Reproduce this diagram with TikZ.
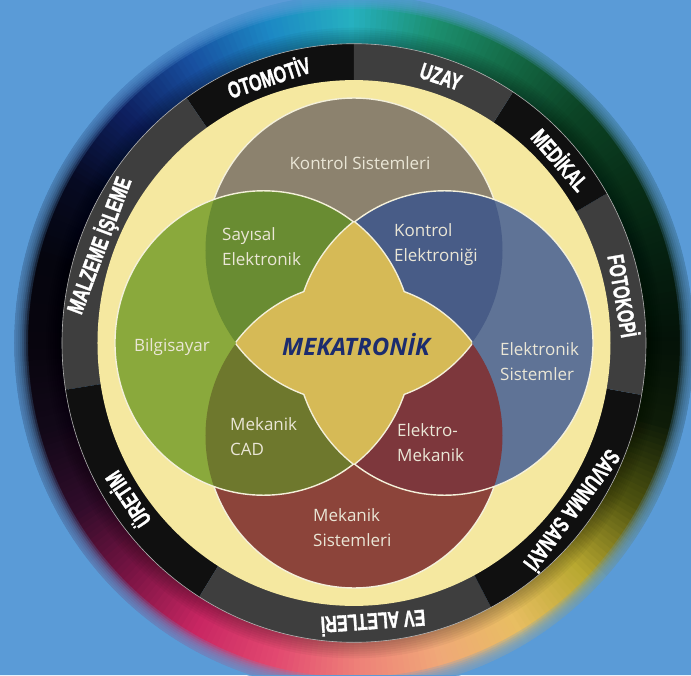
\documentclass[tikz,border=0pt]{standalone}
\usepackage{graphicx}
\usepackage{fontspec}
\newfontfamily\regionfont{Open Sans}
\newfontfamily\bandfont[FakeBold=1.6]{Liberation Sans}

% page and ring colours
\definecolor{bgblue}{HTML}{5A9BD7}
\definecolor{ringblack}{HTML}{101010}
\definecolor{ringgray}{HTML}{3E3E3E}
\definecolor{bandyellow}{HTML}{F5E8A0}
\definecolor{outline}{HTML}{F4F0DA}
% the four fields and their overlaps
\definecolor{tancol}{HTML}{8C826E}
\definecolor{redcol}{HTML}{8C443A}
\definecolor{greencol}{HTML}{8AA93C}
\definecolor{bluecol}{HTML}{5F7396}
\definecolor{greentan}{HTML}{698C32}
\definecolor{bluetan}{HTML}{485C87}
\definecolor{greenred}{HTML}{6E782D}
\definecolor{bluered}{HTML}{7D373C}
\definecolor{starcol}{HTML}{D6BA56}
\definecolor{navy}{HTML}{1C2C6E}
\definecolor{labeltext}{HTML}{EAE6D6}
% colour wheel around the ring, every 15 degrees
\definecolor{rb0}{HTML}{041208}
\definecolor{rb1}{HTML}{052010}
\definecolor{rb2}{HTML}{083018}
\definecolor{rb3}{HTML}{0C4426}
\definecolor{rb4}{HTML}{146A46}
\definecolor{rb5}{HTML}{1C9070}
\definecolor{rb6}{HTML}{26B0C0}
\definecolor{rb7}{HTML}{1C88C4}
\definecolor{rb8}{HTML}{1850A0}
\definecolor{rb9}{HTML}{0E2060}
\definecolor{rb10}{HTML}{060A22}
\definecolor{rb11}{HTML}{05050E}
\definecolor{rb12}{HTML}{08050E}
\definecolor{rb13}{HTML}{120818}
\definecolor{rb14}{HTML}{300C2A}
\definecolor{rb15}{HTML}{7A1444}
\definecolor{rb16}{HTML}{C82662}
\definecolor{rb17}{HTML}{E24870}
\definecolor{rb18}{HTML}{EE8078}
\definecolor{rb19}{HTML}{F0A878}
\definecolor{rb20}{HTML}{E8BE62}
\definecolor{rb21}{HTML}{B8A830}
\definecolor{rb22}{HTML}{505410}
\definecolor{rb23}{HTML}{0E1C08}

% condensed heavy caps for the application band
\newcommand{\bandtext}[1]{\scalebox{0.70}[1]{#1}}

\tikzset{
  bandlabel/.style={text=white, inner sep=0pt, text depth=0pt,
    font=\bandfont\bfseries\fontsize{23}{23}\selectfont},
  regiontext/.style={text=labeltext, inner sep=0pt, align=left, anchor=west,
    font=\regionfont\fontsize{17}{25}\selectfont},
  fieldline/.style={draw=outline, line width=1.4pt},
}

\begin{document}
\begin{tikzpicture}[x=1pt,y=1.025pt]
\def\R{148.5}
\useasboundingbox (-354pt,-332pt) rectangle (337pt,343pt);
\fill[bgblue] (-354pt,-332pt) rectangle (337pt,343pt);

% colour wheel ring
\foreach \i in {0,...,23}{
  \pgfmathtruncatemacro{\n}{mod(\i+1,24)}
  \foreach \j in {0,...,14}{
    \pgfmathtruncatemacro{\p}{round(\j*100/15)}
    \pgfmathsetmacro{\a}{15*\i+\j}
    \pgfmathsetmacro{\b}{\a+1.4}
    \fill[rb\n!\p!rb\i] (\a:290) arc[start angle=\a,end angle=\b,radius=290]
      -- (\b:340) arc[start angle=\b,end angle=\a,radius=340] -- cycle;
  }
}
% light shadow next to the dark band
\foreach \k in {1,...,8}{
  \pgfmathsetmacro{\rr}{290+2.2*\k}
  \fill[black,opacity=0.04,even odd rule] (0,0) circle[radius=\rr] circle[radius=290];
}
% soft outer edge
\foreach \k in {0,...,6}{
  \pgfmathsetmacro{\rr}{326+2*\k}
  \fill[bgblue,opacity=0.22,even odd rule] (0,0) circle[radius=341] circle[radius=\rr];
}
\fill[bgblue,even odd rule] (-354pt,-332pt) rectangle (337pt,343pt) (0,0) circle[radius=340];

% application band
\foreach \s/\e/\c in {90/125/ringblack, 125/189/ringgray, 189/238/ringblack,
    238/298/ringgray, 298/350/ringblack, 350/390/ringgray, 390/417/ringblack,
    417/450/ringgray}{
  \fill[\c] (\s:256) arc[start angle=\s,end angle=\e,radius=256]
    -- (\e:292) arc[start angle=\e,end angle=\s,radius=292] -- cycle;
}
\draw[gray!60,line width=0.6pt] (0,0) circle[radius=292];

% inner yellow disc
\fill[bandyellow] (0,0) circle[radius=256.5];

% field centres
\coordinate (cT) at (0,90.5);
\coordinate (cB) at (0,-90.5);
\coordinate (cL) at (-90.5,0);
\coordinate (cR) at (90.5,0);

% single fields
\fill[tancol] (cT) circle[radius=\R];
\fill[redcol] (cB) circle[radius=\R];
\draw[fieldline] (cT) circle[radius=\R];
\draw[fieldline] (cB) circle[radius=\R];
\fill[greencol] (cL) circle[radius=\R];
\fill[bluecol] (cR) circle[radius=\R];

% overlaps of two fields
\begin{scope}
  \clip (cT) circle[radius=\R];
  \fill[greentan] (cL) circle[radius=\R];
  \fill[bluetan] (cR) circle[radius=\R];
\end{scope}
\begin{scope}
  \clip (cB) circle[radius=\R];
  \fill[greenred] (cL) circle[radius=\R];
  \fill[bluered] (cR) circle[radius=\R];
\end{scope}
\draw[fieldline] (cL) circle[radius=\R];
\draw[fieldline] (cR) circle[radius=\R];

% central star: union of the two opposite lenses
\begin{scope}
  \clip (cT) circle[radius=\R];
  \draw[outline,line width=3pt] (cB) circle[radius=\R];
\end{scope}
\begin{scope}
  \clip (cB) circle[radius=\R];
  \draw[outline,line width=3pt] (cT) circle[radius=\R];
\end{scope}
\begin{scope}
  \clip (cL) circle[radius=\R];
  \draw[outline,line width=3pt] (cR) circle[radius=\R];
\end{scope}
\begin{scope}
  \clip (cR) circle[radius=\R];
  \draw[outline,line width=3pt] (cL) circle[radius=\R];
\end{scope}
\begin{scope}
  \clip (cT) circle[radius=\R];
  \fill[starcol] (cB) circle[radius=\R];
\end{scope}
\begin{scope}
  \clip (cL) circle[radius=\R];
  \fill[starcol] (cR) circle[radius=\R];
\end{scope}

% band labels
\node[bandlabel,rotate=18.2]   (oto)  at (108.2:274) {\bandtext{OTOMOTİV}};
\node[bandlabel,rotate=-18.5]  (uzay) at (71.5:274)  {\bandtext{UZAY}};
\node[bandlabel,rotate=-49.1]  (med)  at (40.9:274)  {\bandtext{MEDİKAL}};
\node[bandlabel,rotate=-80.3]  (foto) at (9.7:274)   {\bandtext{FOTOKOPİ}};
\node[bandlabel,rotate=-126.8] (sav)  at (-36.8:274) {\bandtext{SAVUNMA SANAYİ}};
\node[bandlabel,rotate=-176]   (ev)   at (-86:274)   {\bandtext{EV ALETLERİ}};
\node[bandlabel,rotate=124]    (uret) at (214:274)   {\bandtext{ÜRETİM}};
\node[bandlabel,rotate=69.5]   (malz) at (159.5:274) {\bandtext{MALZEME İŞLEME}};

% field labels
\node[regiontext,anchor=center] (ks) at (6pt,180pt) {Kontrol Sistemleri};
\node[regiontext] (se) at (-132pt,96pt) {Sayısal\\Elektronik};
\node[regiontext] (ke) at (40pt,98pt) {Kontrol\\Elektroniği};
\node[regiontext,anchor=center] (bil) at (-182pt,-4pt) {Bilgisayar};
\node[regiontext] (es) at (146pt,-19pt) {Elektronik\\Sistemler};
\node[regiontext] (mc) at (-124pt,-94pt) {Mekanik\\CAD};
\node[regiontext] (em) at (43pt,-100pt) {Elektro-\\Mekanik};
\node[regiontext] (ms) at (-41pt,-185pt) {Mekanik\\Sistemleri};
\node[inner sep=0pt,text=navy,font=\regionfont\bfseries\itshape\fontsize{24}{24}\selectfont]
  (mek) at (2pt,-2pt) {MEKATRONİK};
\end{tikzpicture}
\end{document}
